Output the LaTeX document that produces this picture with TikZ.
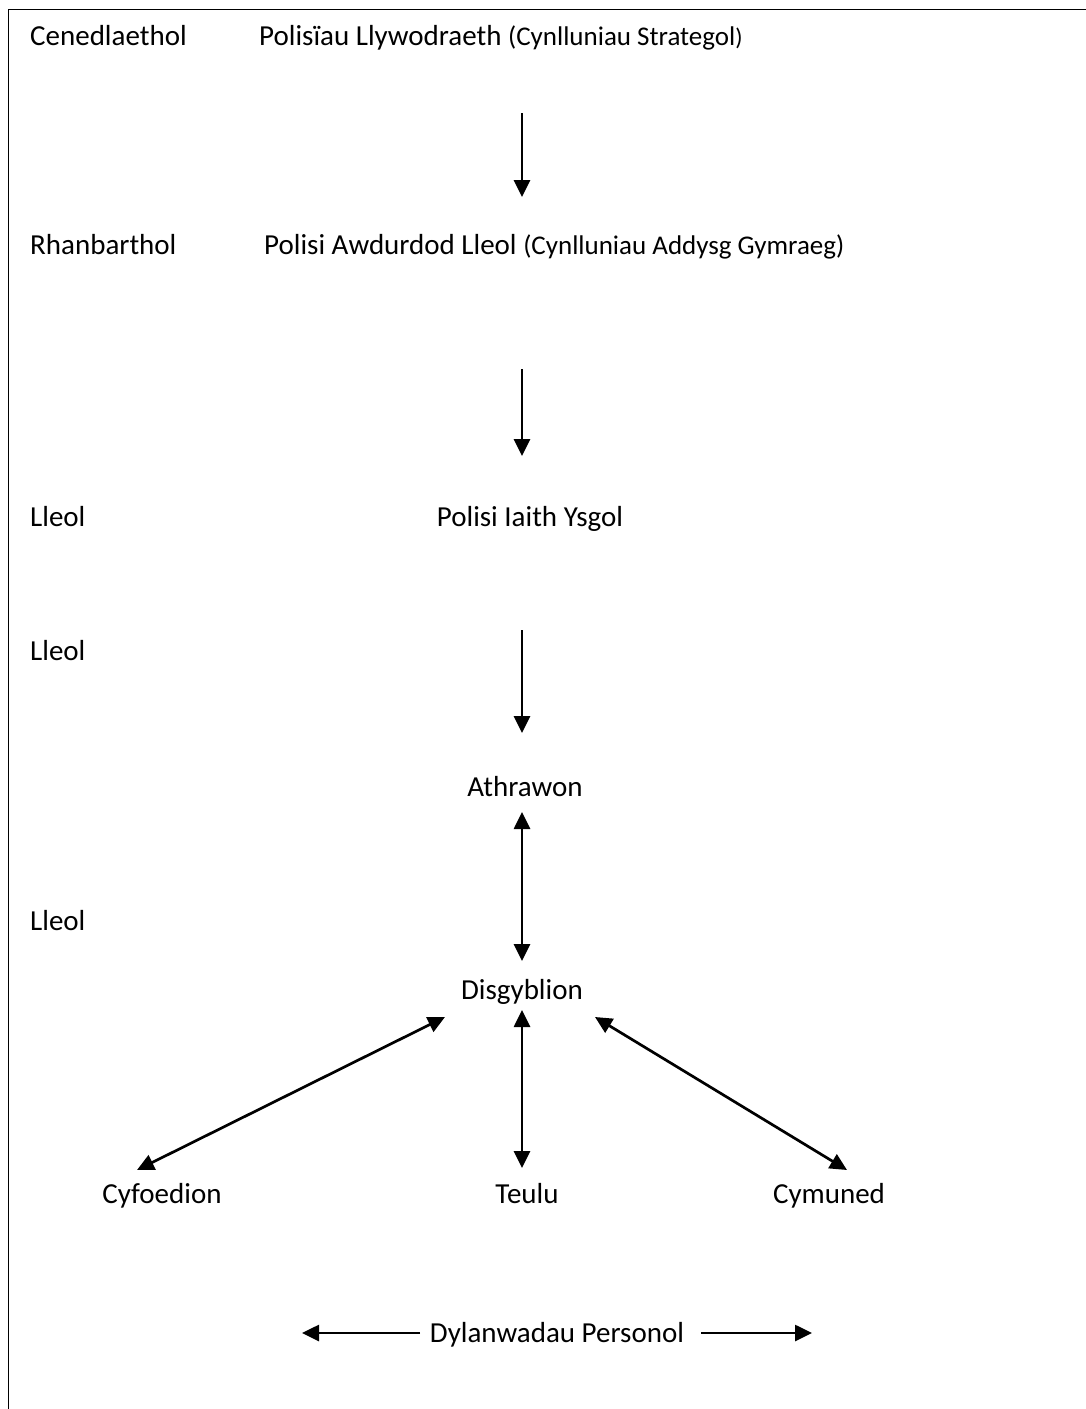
\documentclass[tikz,border=0pt]{standalone}
\usepackage{fontspec}
\setmainfont{Carlito}
\usetikzlibrary{arrows.meta}
\tikzset{
  lbl/.style={font=\fontsize{29}{35}\selectfont, inner sep=0pt, anchor=base west},
  ctr/.style={font=\fontsize{29}{35}\selectfont, inner sep=0pt, anchor=base},
  arr/.style={line width=2.7pt, -{Triangle[width=16pt,length=17pt]}},
  darr/.style={line width=2.7pt, {Triangle[width=16pt,length=17pt]}-{Triangle[width=16pt,length=17pt]}},
}
\newcommand{\smalltxt}[1]{{\fontsize{27}{32}\selectfont #1}}
\newcommand{\tinytxt}[1]{{\fontsize{24}{28}\selectfont #1}}
\begin{document}
\begin{tikzpicture}[x=1pt,y=-1pt]
\useasboundingbox (0,0) rectangle (1086,1409);
% frame (top and left edges only visible)
\draw[line width=1.5pt] (8.5,1409) -- (8.5,9.5) -- (1086,9.5);

% level labels
\node[lbl] (cen) at (30,45) {Cenedlaethol};
\node[lbl] (rhan) at (30,254) {Rhanbarthol};
\node[lbl] (lleol1) at (30,526) {Lleol};
\node[lbl] (lleol2) at (30,660) {Lleol};
\node[lbl] (lleol3) at (30,930) {Lleol};

% main nodes
\node[lbl] (gov) at (259,45) {Polisïau Llywodraeth \smalltxt{(Cynlluniau Strategol}\tinytxt{)}};
\node[lbl] (la) at (264,254) {Polisi Awdurdod Lleol \smalltxt{(Cynlluniau Addysg Gymraeg)}};
\node[ctr] (school) at (530,526) {Polisi Iaith Ysgol};
\node[ctr] (teach) at (525,796) {Athrawon};
\node[ctr] (pupils) at (522,999) {Disgyblion};
\node[ctr] (peers) at (162,1203) {Cyfoedion};
\node[ctr] (family) at (527,1203) {Teulu};
\node[ctr] (comm) at (829,1203) {Cymuned};
\node[ctr] (pers) at (557,1342) {Dylanwadau Personol};

% arrow end points
\coordinate (a1s) at (522,113);  \coordinate (a1e) at (522,197);
\coordinate (a2s) at (522,369);  \coordinate (a2e) at (522,456);
\coordinate (a3s) at (522,630);  \coordinate (a3e) at (522,733);
\coordinate (d1s) at (522,812);  \coordinate (d1e) at (522,961);
\coordinate (pl) at (445,1017);  \coordinate (cl) at (137,1170);
\coordinate (pm) at (522,1010);  \coordinate (cm) at (522,1168);
\coordinate (pr) at (595,1017);  \coordinate (cr) at (847,1170);
\coordinate (bl1) at (420,1333); \coordinate (bl2) at (302,1333);
\coordinate (br1) at (701,1333); \coordinate (br2) at (812,1333);

\draw[arr] (a1s) -- (a1e);
\draw[arr] (a2s) -- (a2e);
\draw[arr] (a3s) -- (a3e);
\draw[darr] (d1s) -- (d1e);
\draw[darr] (pl) -- (cl);
\draw[darr] (pm) -- (cm);
\draw[darr] (pr) -- (cr);
\draw[arr] (bl1) -- (bl2);
\draw[arr] (br1) -- (br2);
\end{tikzpicture}
\end{document}
